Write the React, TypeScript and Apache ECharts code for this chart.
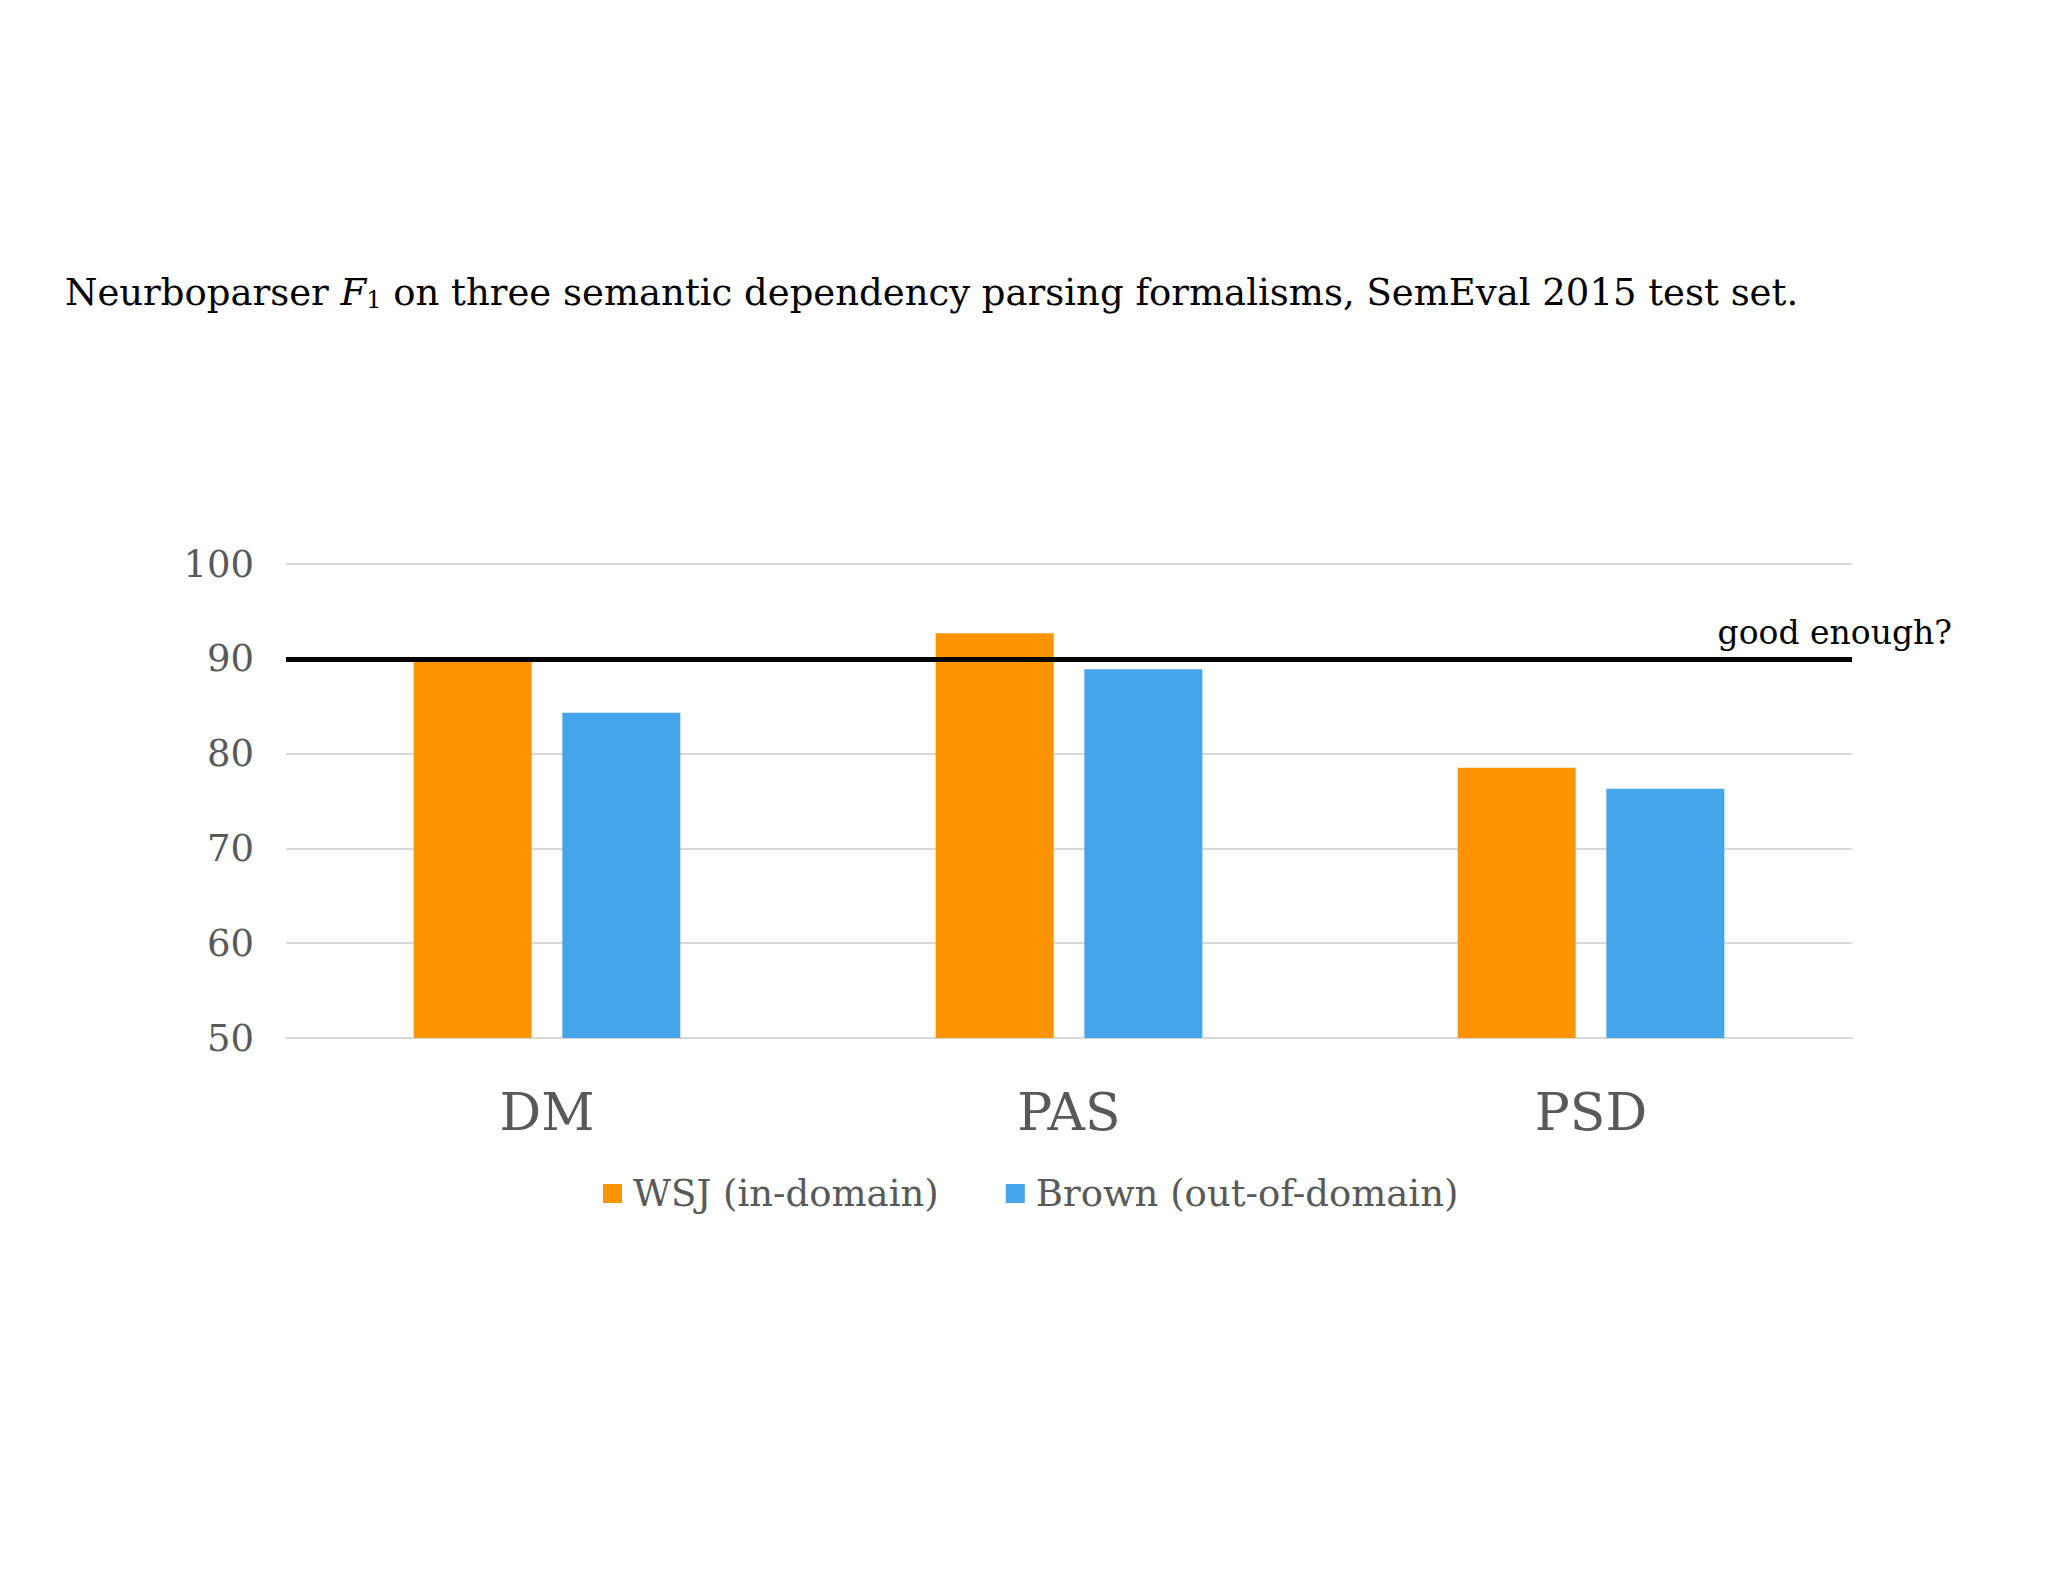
import { useEffect, useRef } from 'react';
import * as echarts from 'echarts';

const categories = ['DM', 'PAS', 'PSD'];
const wsjScores = [89.9, 92.7, 78.5];
const brownScores = [84.3, 88.9, 76.3];
const seriesNames = ['WSJ (in-domain)', 'Brown (out-of-domain)'];
const thresholdValue = 90;
const thresholdLabel = 'good enough?';

const FONT = '"DejaVu Serif", serif';

export default function App() {
  const chartRef = useRef<HTMLDivElement>(null);

  useEffect(() => {
    if (!chartRef.current) return;
    const chart = echarts.init(chartRef.current, null, { renderer: 'svg' });

    const option: echarts.EChartsOption = {
      animation: false,
      backgroundColor: '#ffffff',
      title: {
        text: 'Neurboparser {i|F}{sub|1} on three semantic dependency parsing formalisms, SemEval 2015 test set.',
        left: 60,
        top: 268,
        textStyle: {
          fontFamily: FONT,
          fontSize: 37,
          fontWeight: 'normal',
          color: '#000000',
          rich: {
            i: { fontFamily: FONT, fontSize: 37, fontStyle: 'italic', color: '#000' },
            sub: { fontFamily: FONT, fontSize: 24, color: '#000', padding: [15, 0, 0, 0] },
          },
        },
      },
      legend: {
        data: seriesNames,
        left: 598,
        top: 1170,
        icon: 'rect',
        itemWidth: 19,
        itemHeight: 19,
        itemGap: 67,
        textStyle: {
          fontFamily: FONT,
          fontSize: 37,
          color: '#595959',
          padding: [0, 0, 0, 6],
        },
      },
      grid: {
        left: 286,
        right: 196,
        top: 564,
        bottom: 544,
      },
      xAxis: {
        type: 'category',
        data: categories,
        axisTick: { show: false },
        axisLine: { lineStyle: { color: '#d9d9d9', width: 2 } },
        axisLabel: {
          fontFamily: FONT,
          fontSize: 52,
          color: '#595959',
          margin: 48,
        },
      },
      yAxis: {
        type: 'value',
        min: 50,
        max: 100,
        interval: 10,
        axisLine: { show: false },
        axisTick: { show: false },
        splitLine: { lineStyle: { color: '#d9d9d9', width: 2 } },
        axisLabel: {
          fontFamily: FONT,
          fontSize: 37,
          color: '#595959',
          margin: 32,
        },
      },
      series: [
        {
          name: seriesNames[0],
          type: 'bar',
          data: wsjScores,
          barWidth: 118,
          barGap: '26%',
          itemStyle: { color: '#FF9300' },
        },
        {
          name: seriesNames[1],
          type: 'bar',
          data: brownScores,
          barWidth: 118,
          barGap: '26%',
          itemStyle: { color: '#45A4EA' },
          markLine: {
            silent: true,
            symbol: 'none',
            lineStyle: { color: '#000000', width: 5, type: 'solid' },
            label: {
              show: true,
              formatter: thresholdLabel,
              position: 'insideEndTop',
              distance: 10,
              offset: [110, 0],
              fontFamily: FONT,
              fontSize: 33,
              color: '#000000',
            },
            data: [{ yAxis: thresholdValue }],
          },
        },
      ],
    };

    chart.setOption(option);
    return () => chart.dispose();
  }, []);

  return (
    <div
      ref={chartRef}
      style={{ position: 'absolute', left: 0, top: 0, width: 2048, height: 1582 }}
    />
  );
}
